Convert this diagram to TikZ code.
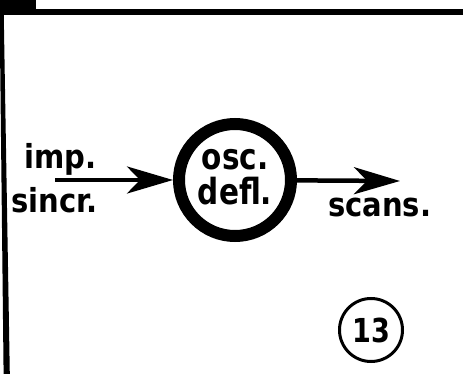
\documentclass[tikz,border=0pt]{standalone}
\usepackage{fontspec}
\setmainfont{DejaVu Sans}
\newfontfamily\labfont{DejaVu Sans}[FakeStretch=0.88]
\newfontfamily\oscfont{DejaVu Sans}[FakeStretch=0.82]
\usetikzlibrary{arrows.meta}

\begin{document}
\begin{tikzpicture}[x=1pt,y=-1pt,
        txt/.style={anchor=base west,inner sep=0pt,font=\labfont\fontsize{33}{33}\selectfont\bfseries},
        sig/.style={line width=4.5pt,-{Stealth[length=46pt,width=27pt,inset=13pt]}}]
        \useasboundingbox (0,0) rectangle (463,374);
        % frame
        \fill (0,9) rectangle (463,15);
        \fill (0,0) rectangle (36,15);
        \fill (-0.5,0) -- (3.5,0) -- (9.8,374) -- (3.6,374) -- cycle;
        % oscillator
        \node[circle,draw,line width=12pt,minimum size=112pt,inner sep=0pt,align=center,
              font=\oscfont\fontsize{36}{35}\selectfont\bfseries] (defl) at (235,180)
              {osc.\\defl.\rule[-6pt]{0pt}{6pt}};
        \coordinate (impin) at (55,180);
        \coordinate (scout) at (400,181);
        \draw[sig] (impin) -- (defl);
        \draw[sig] (defl) -- (scout);
        \node[txt] (imp) at (24,169) {imp.};
        \node[txt] (sincr) at (11,213) {sincr.};
        \node[txt] (scans) at (328,217) {scans.};
        % figure number
        \node[circle,draw,line width=3pt,minimum size=63pt,inner sep=0pt,
              font=\oscfont\fontsize{33}{33}\selectfont\bfseries] (fig) at (371,330) {13};
    \end{tikzpicture}
\end{document}
